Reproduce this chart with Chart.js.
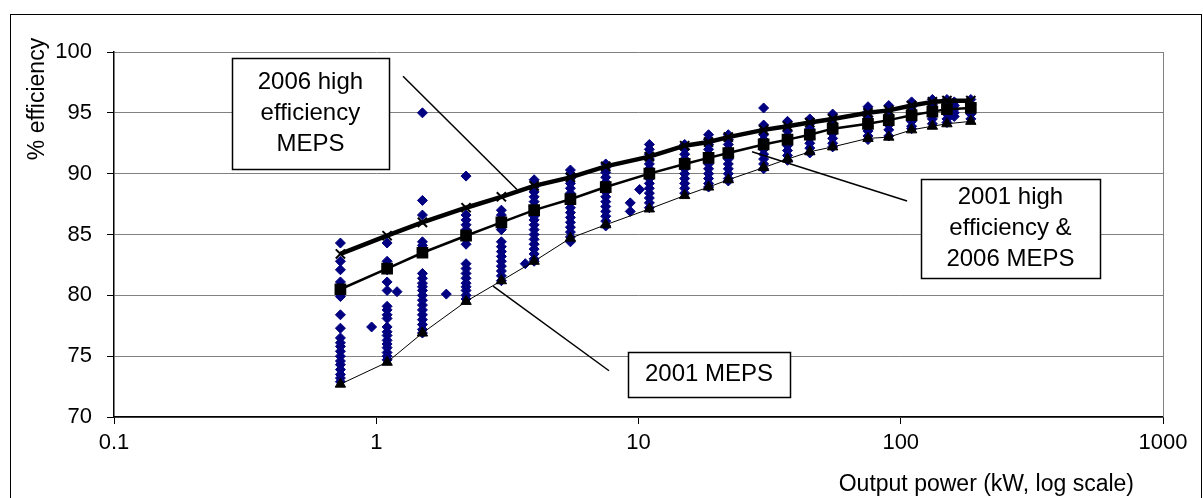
<!DOCTYPE html>
<html>
<head>
<meta charset="utf-8">
<script src="https://cdn.jsdelivr.net/npm/chart.js@4"></script>
<style>
html, body { margin: 0; padding: 0; background: #fff; }
canvas { display: block; }
</style>
</head>
<body>
<canvas id="myChart" width="1203" height="498"></canvas>
<script>
// motor ratings (kW) used by the MEPS curves
var ratings = [0.73, 1.1, 1.5, 2.2, 3, 4, 5.5, 7.5, 11, 15, 18.5, 22, 30, 37, 45, 55, 75, 90, 110, 132, 150, 185];
var meps2001 = [72.7, 74.5, 76.9, 79.5, 81.2, 82.8, 84.7, 85.8, 87.1, 88.2, 88.9, 89.5, 90.5, 91.2, 91.8, 92.2, 92.9, 93.0, 93.6, 93.9, 94.1, 94.3];
var he2001 = [80.5, 82.2, 83.5, 84.9, 86.0, 87.0, 87.9, 88.9, 90.0, 90.8, 91.3, 91.7, 92.4, 92.8, 93.2, 93.7, 94.1, 94.4, 94.8, 95.1, 95.3, 95.4];
var he2006 = [83.4, 84.9, 86.0, 87.2, 88.1, 89.0, 89.7, 90.6, 91.4, 92.3, 92.6, 93.0, 93.6, 93.9, 94.2, 94.5, 95.0, 95.2, 95.6, 95.9, 96.0, 96.0];

// registered motors: output power and the efficiencies listed at that power
var sampleKw = [0.73, 0.96, 1.1, 1.2, 1.5, 1.85, 2.2, 3, 3.7, 4, 5.5, 7.5, 9.3, 10.1, 11, 15, 18.5, 22, 30, 37, 45, 55, 75, 90, 110, 132, 150, 160, 185];
var sampleEff = [
    [84.3, 82.8, 82.1, 81.1, 80.8, 80.5, 80.2, 79.9, 78.4, 77.3, 76.5, 76.1, 75.8, 75.4, 75.0, 74.6, 74.3, 73.9, 73.5, 73.2, 72.9],
    [77.4],
    [84.3, 82.8, 82.4, 82.1, 81.1, 80.4, 79.1, 78.8, 78.4, 78.1, 77.4, 77.0, 76.7, 76.3, 76.0, 75.7, 75.3, 75.0, 74.7],
    [80.3],
    [95.0, 87.8, 86.6, 84.4, 84.1, 83.8, 83.5, 81.8, 81.4, 81.0, 80.7, 80.4, 80.0, 79.6, 79.2, 78.8, 78.4, 78.0, 77.6, 77.2, 76.9],
    [80.1],
    [89.8, 86.6, 86.2, 85.8, 85.4, 85.0, 84.6, 84.2, 82.6, 82.2, 81.8, 81.4, 81.0, 80.7, 80.4, 80.0, 79.7],
    [87.0, 86.6, 86.2, 85.8, 85.4, 84.4, 84.0, 83.6, 83.2, 82.8, 82.4, 82.0, 81.6, 81.2],
    [82.6],
    [89.5, 88.9, 88.5, 88.1, 87.7, 87.3, 86.9, 86.5, 86.2, 85.8, 85.4, 85.0, 84.6, 84.2, 83.8, 83.4, 83.0, 82.8],
    [90.3, 90.0, 89.6, 89.2, 88.8, 88.4, 88.0, 87.6, 87.2, 86.8, 86.4, 86.0, 85.6, 85.2, 84.8, 84.4],
    [90.8, 90.5, 90.1, 89.7, 89.3, 88.9, 88.5, 88.1, 87.7, 87.3, 86.9, 86.5, 86.1, 85.7],
    [87.6, 86.9],
    [88.7],
    [92.4, 92.0, 91.6, 91.2, 90.8, 90.4, 90.0, 89.6, 89.2, 88.8, 88.4, 88.0, 87.6, 87.2],
    [92.4, 92.0, 91.6, 91.2, 90.8, 90.4, 90.0, 89.6, 89.2, 88.8, 88.4],
    [93.2, 92.8, 92.4, 92.0, 91.6, 91.2, 90.8, 90.4, 90.0, 89.6, 89.2, 88.9],
    [93.2, 92.8, 92.4, 92.0, 91.6, 91.2, 90.8, 90.4, 90.0, 89.6, 89.4],
    [95.4, 94.0, 93.6, 93.2, 92.8, 92.4, 92.0, 91.6, 91.2, 90.8, 90.4],
    [94.3, 93.9, 93.5, 93.1, 92.7, 92.3, 91.9, 91.5, 91.1],
    [94.5, 94.1, 93.7, 93.3, 92.9, 92.5, 92.1, 91.7],
    [94.9, 94.5, 94.1, 93.7, 93.3, 92.9, 92.5, 92.2],
    [95.5, 95.1, 94.7, 94.3, 93.9, 93.5, 93.1, 92.8],
    [95.6, 95.2, 94.8, 94.4, 94.0, 93.6, 93.1],
    [95.9, 95.5, 95.1, 94.7, 94.3, 93.9, 93.7],
    [96.1, 95.7, 95.3, 94.9, 94.5, 94.1],
    [96.1, 95.7, 95.3, 94.9, 94.5, 94.2],
    [95.9, 95.6, 95.3, 95.0, 94.7],
    [96.1, 95.7, 95.3, 94.9, 94.5]
];

var xTicks = [0.1, 1, 10, 100, 1000];
var yMin = 70, yMax = 100, yStep = 5;

// callout boxes, placed in data units (kW, %)
var notes = [
    { text: ['2006 high', 'efficiency', 'MEPS'], at: [0.561, 94.95], w: 157, h: 111, from: [1.265, 98.0], to: [3.44, 88.7] },
    { text: ['2001 high', 'efficiency &', '2006 MEPS'], at: [262, 85.5], w: 179, h: 99, from: [27.1, 91.8], to: [105.7, 87.75] },
    { text: ['2001 MEPS'], at: [18.57, 73.5], w: 162, h: 45, from: [2.79, 80.75], to: [7.72, 73.8] }
];

function pairs(xs, ys) {
    return xs.map(function (x, i) { return { x: x, y: ys[i] }; });
}

var samplePoints = [];
sampleKw.forEach(function (kw, i) {
    sampleEff[i].forEach(function (e) { samplePoints.push({ x: kw, y: e }); });
});

var FONT = 'Liberation Sans, Arial, sans-serif';

var extras = {
    id: 'extras',
    afterDraw: function (chart) {
        var ctx = chart.ctx, area = chart.chartArea;
        var xs = chart.scales.x, ys = chart.scales.y;
        ctx.save();
        // plot frame, right side
        ctx.strokeStyle = '#808080';
        ctx.lineWidth = 1;
        ctx.beginPath();
        ctx.moveTo(Math.round(area.right) + 0.5, area.top);
        ctx.lineTo(Math.round(area.right) + 0.5, area.bottom);
        ctx.stroke();
        // outer frame
        ctx.strokeStyle = '#000';
        ctx.strokeRect(10.5, 14.5, 1191, 520);

        // leader lines and boxes
        ctx.font = '24px ' + FONT;
        ctx.textAlign = 'center';
        ctx.textBaseline = 'middle';
        notes.forEach(function (n) {
            ctx.strokeStyle = '#000';
            ctx.lineWidth = 1.5;
            ctx.beginPath();
            ctx.moveTo(xs.getPixelForValue(n.from[0]), ys.getPixelForValue(n.from[1]));
            ctx.lineTo(xs.getPixelForValue(n.to[0]), ys.getPixelForValue(n.to[1]));
            ctx.stroke();
            var cx = xs.getPixelForValue(n.at[0]), cy = ys.getPixelForValue(n.at[1]);
            var left = Math.round(cx - n.w / 2) + 0.5, top = Math.round(cy - n.h / 2) + 0.5;
            ctx.fillStyle = '#fff';
            ctx.fillRect(left, top, n.w, n.h);
            ctx.lineWidth = 1.5;
            ctx.strokeRect(left, top, n.w, n.h);
            ctx.fillStyle = '#000';
            var lh = 31;
            n.text.forEach(function (t, i) {
                ctx.fillText(t, cx, cy + (i - (n.text.length - 1) / 2) * lh);
            });
        });

        // axis titles
        ctx.fillStyle = '#000';
        ctx.font = '23px ' + FONT;
        ctx.textAlign = 'right';
        ctx.textBaseline = 'middle';
        ctx.fillText('Output power (kW, log scale)', 1134, 485);
        ctx.translate(38, 99);
        ctx.rotate(-Math.PI / 2);
        ctx.textAlign = 'center';
        ctx.fillText('% efficiency', 0, 0);
        ctx.restore();
    }
};

var ctx = document.getElementById('myChart').getContext('2d');
var chart = new Chart(ctx, {
    type: 'scatter',
    data: {
        datasets: [{
            label: '2006 high efficiency MEPS',
            data: pairs(ratings, he2006),
            showLine: true,
            borderColor: '#000',
            backgroundColor: '#000',
            borderWidth: 4.5,
            pointStyle: 'crossRot',
            pointRadius: 6.5,
            pointBorderWidth: 2,
            order: 1
        }, {
            label: '2001 high efficiency & 2006 MEPS',
            data: pairs(ratings, he2001),
            showLine: true,
            borderColor: '#000',
            backgroundColor: '#000',
            borderWidth: 2.5,
            pointStyle: 'rect',
            pointRadius: 6.5,
            order: 2
        }, {
            label: '2001 MEPS',
            data: pairs(ratings, meps2001),
            showLine: true,
            borderColor: '#000',
            backgroundColor: '#000',
            borderWidth: 1,
            pointStyle: 'triangle',
            pointRadius: 6,
            order: 3
        }, {
            label: 'Motors',
            data: samplePoints,
            borderColor: '#000080',
            backgroundColor: '#000080',
            pointStyle: 'rectRot',
            pointRadius: 5,
            pointBorderWidth: 1,
            order: 4
        }]
    },
    options: {
        responsive: false,
        animation: false,
        layout: { padding: { left: 0, top: 52, right: 40, bottom: 0 } },
        plugins: { legend: { display: false }, tooltip: { enabled: false } },
        scales: {
            x: {
                type: 'logarithmic',
                min: xTicks[0],
                max: xTicks[xTicks.length - 1],
                afterBuildTicks: function (s) { s.ticks = xTicks.map(function (v) { return { value: v }; }); },
                afterFit: function (s) { s.height = 81; },
                border: { color: '#000', width: 1.5 },
                grid: { drawOnChartArea: false, drawTicks: true, tickLength: 7, tickColor: '#000' },
                ticks: {
                    color: '#000',
                    font: { family: FONT, size: 22 },
                    padding: 6,
                    maxRotation: 0,
                    callback: function (v) { return String(v); }
                }
            },
            y: {
                min: yMin,
                max: yMax,
                afterFit: function (s) { s.width = 114; },
                border: { color: '#000', width: 1.5 },
                grid: { color: '#808080', lineWidth: 1, tickLength: 7, tickColor: '#000' },
                ticks: {
                    stepSize: yStep,
                    color: '#000',
                    font: { family: FONT, size: 22 },
                    padding: 15
                }
            }
        }
    },
    plugins: [extras]
});
</script>
</body>
</html>
